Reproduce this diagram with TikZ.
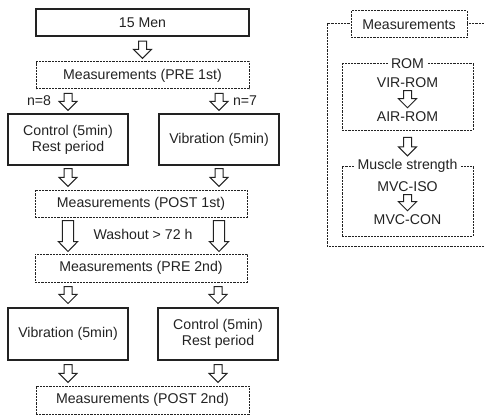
\documentclass[tikz,border=0pt]{standalone}
\usepackage{fontspec}
\setmainfont{Liberation Sans}
\usetikzlibrary{calc}
\definecolor{ink}{HTML}{222222}
\tikzset{
  box/.style 2 args={draw=ink, line width=0.8pt, minimum width={#1*0.75pt}, minimum height={#2*0.75pt}, inner sep=0pt, align=center},
  dbox/.style 2 args={draw=ink, line width=0.75pt, dash pattern=on 1.6pt off 0.8pt, fill=white, minimum width={#1*0.75pt}, minimum height={#2*0.75pt}, inner sep=0pt, align=center},
  dline/.style={draw=ink, line width=0.75pt, dash pattern=on 1.6pt off 0.8pt},
  lbl/.style={fill=white, inner xsep=2.5pt, inner ysep=1pt},
  txt/.style={inner sep=0pt},
  barrow/.style n args={5}{draw=ink, fill=white, line width=0.75pt, line join=miter,
    to path={let \p1=(\tikztostart), \p2=(\tikztotarget) in
      (\x1-#3,\y1-#1) -- (\x1+#3,\y1-#1) -- (\x1+#3,\y2+#2+#5) -- (\x1+#4,\y2+#2+#5)
      -- (\x1,\y2+#2) -- (\x1-#4,\y2+#2+#5) -- (\x1-#3,\y2+#2+#5) -- cycle}},
  sarrow/.style 2 args={barrow={#1}{#2}{3pt}{6.75pt}{6.75pt}},
  bigarrow/.style 2 args={barrow={#1}{#2}{4.2pt}{7.3pt}{7.5pt}},
}
\begin{document}
\begin{tikzpicture}[x=0.75pt,y=-0.75pt,font=\fontsize{10.6}{12.2}\selectfont,text=ink]
\useasboundingbox (0,0) rectangle (484,417);
% left flow
\node[box={213}{27}] (men) at (142.5,22.5) {15 Men};
\node[dbox={213}{27}] (pre1) at (142.5,75.5) {Measurements (PRE 1st)};
\node[box={120}{51}] (ctrl1) at (68,139.5) {Control (5min)\\Rest period};
\node[box={120}{51}] (vib1) at (219,139.5) {Vibration (5min)};
\node[dbox={212}{27}] (post1) at (141,203.5) {Measurements (POST 1st)};
\node[dbox={212}{28}] (pre2) at (141,268) {Measurements (PRE 2nd)};
\node[box={120}{52}] (vib2) at (68,334) {Vibration (5min)};
\node[box={120}{52}] (ctrl2) at (218,334) {Control (5min)\\Rest period};
\node[dbox={213}{28}] (post2) at (142.5,400) {Measurements (POST 2nd)};
\node (n8) at (39,101) {n=8};
\node (n7) at (245,101) {n=7};
\node (wash) at (143,234) {Washout > 72 h};
\draw[sarrow={3.5pt}{2.3pt}] (men.south) to (pre1.north);
\draw[sarrow={3pt}{2.3pt}] (pre1.south -| ctrl1.north) to (ctrl1.north);
\draw[sarrow={3pt}{2.3pt}] (pre1.south -| vib1.north) to (vib1.north);
\draw[sarrow={2.3pt}{2.3pt}] (ctrl1.south) to (ctrl1.south |- post1.north);
\draw[sarrow={2.3pt}{2.3pt}] (vib1.south) to (vib1.south |- post1.north);
\draw[bigarrow={2.3pt}{1.5pt}] (post1.south -| ctrl1.south) to (pre2.north -| ctrl1.south);
\draw[bigarrow={2.3pt}{1.5pt}] (post1.south -| vib1.south) to (pre2.north -| vib1.south);
\draw[sarrow={3pt}{3pt}] (pre2.south -| vib2.north) to (vib2.north);
\draw[sarrow={3pt}{3pt}] (pre2.south -| ctrl2.north) to (ctrl2.north);
\draw[sarrow={3pt}{2.3pt}] (vib2.south) to (vib2.south |- post2.north);
\draw[sarrow={3pt}{2.3pt}] (ctrl2.south) to (ctrl2.south |- post2.north);
% right panel
\coordinate (otr) at (484,24);
\coordinate (otl) at (327,24);
\coordinate (obl) at (327,246);
\coordinate (obr) at (484,246);
\draw[dline] (otr) -- (otl) -- (obl) -- (obr);
\node[dbox={116}{27}] (meas) at (409,24.5) {Measurements};
\node[dbox={131}{66}, fill=none] (rom) at (407.5,97) {};
\node[lbl] (romlbl) at (407.5,64) {ROM};
\node[txt] (vir) at (407.5,83) {VIR-ROM};
\node[txt] (air) at (407.5,117) {AIR-ROM};
\draw[sarrow={1.8pt}{3pt}] (vir.south) to (air.north);
\node[dbox={131}{70}, fill=none] (mus) at (407.5,201) {};
\node[lbl] (muslbl) at (407.5,166) {Muscle strength};
\node[txt] (iso) at (407.5,187) {MVC-ISO};
\node[txt] (con) at (407.5,220) {MVC-CON};
\draw[sarrow={1.8pt}{3pt}] (iso.south) to (con.north);
\draw[sarrow={5.2pt}{1.5pt}] (rom.south) to (muslbl.north);
\end{tikzpicture}
\end{document}
